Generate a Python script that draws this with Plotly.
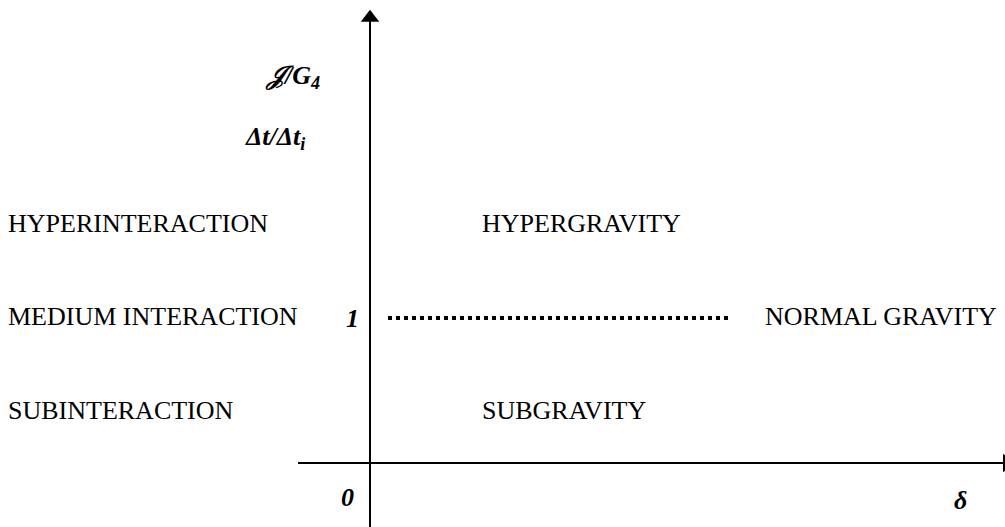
import plotly.graph_objects as go

# --- data ---
interaction_labels = ["HYPERINTERACTION", "MEDIUM INTERACTION", "SUBINTERACTION"]
gravity_labels = ["HYPERGRAVITY", "NORMAL GRAVITY", "SUBGRAVITY"]
row_levels = [1.64, 1.0, 0.35]          # ratio value each row sits at
normal_level = 1.0                        # J/G4 = dt/dti = 1
dotted_delta = [0.18, 3.6]                # extent of the "normal" dotted line
delta_axis = [-0.72, 6.37]                # horizontal axis extent
ratio_axis = [-0.45, 3.07]                # vertical axis extent

FONT = "Liberation Serif, Times New Roman, serif"
X_RANGE = [-3.70, 6.35]
Y_RANGE = [-0.441, 3.193]

fig = go.Figure()

# --- axes drawn as lines ---
fig.add_trace(
    go.Scatter(
        x=delta_axis,
        y=[0, 0],
        mode="lines",
        line=dict(color="black", width=2),
        hoverinfo="skip",
    )
)
fig.add_trace(
    go.Scatter(
        x=[0, 0],
        y=ratio_axis,
        mode="lines",
        line=dict(color="black", width=2),
        hoverinfo="skip",
    )
)

# arrow heads
fig.add_trace(
    go.Scatter(
        x=[0],
        y=[ratio_axis[1]],
        mode="markers",
        marker=dict(symbol="triangle-up", size=16, color="black"),
        hoverinfo="skip",
    )
)
fig.add_trace(
    go.Scatter(
        x=[delta_axis[1]],
        y=[0],
        mode="markers",
        marker=dict(symbol="triangle-right", size=16, color="black"),
        hoverinfo="skip",
    )
)

# --- dotted "normal" line ---
fig.add_trace(
    go.Scatter(
        x=dotted_delta,
        y=[normal_level, normal_level],
        mode="lines",
        line=dict(color="black", width=4, dash="dot"),
        hoverinfo="skip",
    )
)

# --- row labels ---
fig.add_trace(
    go.Scatter(
        x=[-3.62] * 3,
        y=row_levels,
        mode="text",
        text=interaction_labels,
        textposition="middle right",
        textfont=dict(family=FONT, size=26, color="black"),
        hoverinfo="skip",
    )
)
fig.add_trace(
    go.Scatter(
        x=[1.12, 3.95, 1.12],
        y=row_levels,
        mode="text",
        text=gravity_labels,
        textposition="middle right",
        textfont=dict(family=FONT, size=26, color="black"),
        hoverinfo="skip",
    )
)

# --- axis annotations ---
math_font = dict(family=FONT, size=26, color="black")
fig.add_annotation(x=-0.78, y=2.66, text="<b><i>𝒥/G<sub>4</sub></i></b>",
                   showarrow=False, font=math_font)
fig.add_annotation(x=-0.95, y=2.24, text="<b><i>Δt/Δt<sub>i</sub></i></b>",
                   showarrow=False, font=math_font)
fig.add_annotation(x=-0.18, y=normal_level, text="<b><i>1</i></b>",
                   showarrow=False, font=math_font)
fig.add_annotation(x=-0.23, y=-0.24, text="<b><i>0</i></b>",
                   showarrow=False, font=math_font)
fig.add_annotation(x=5.9, y=-0.255, text="<b><i>δ</i></b>",
                   showarrow=False, font=math_font)

fig.update_layout(
    xaxis=dict(range=X_RANGE, visible=False, fixedrange=True),
    yaxis=dict(range=Y_RANGE, visible=False, fixedrange=True),
    showlegend=False,
    plot_bgcolor="white",
    paper_bgcolor="white",
    width=1005,
    height=527,
    margin=dict(t=0, b=0, l=0, r=0),
)

# page has a default 8px body margin; drop it so the figure fills the window
fig.write_html(
    "out.html",
    config={"displayModeBar": False},
    post_script="document.body.style.margin='0';document.body.style.overflow='hidden';",
)
